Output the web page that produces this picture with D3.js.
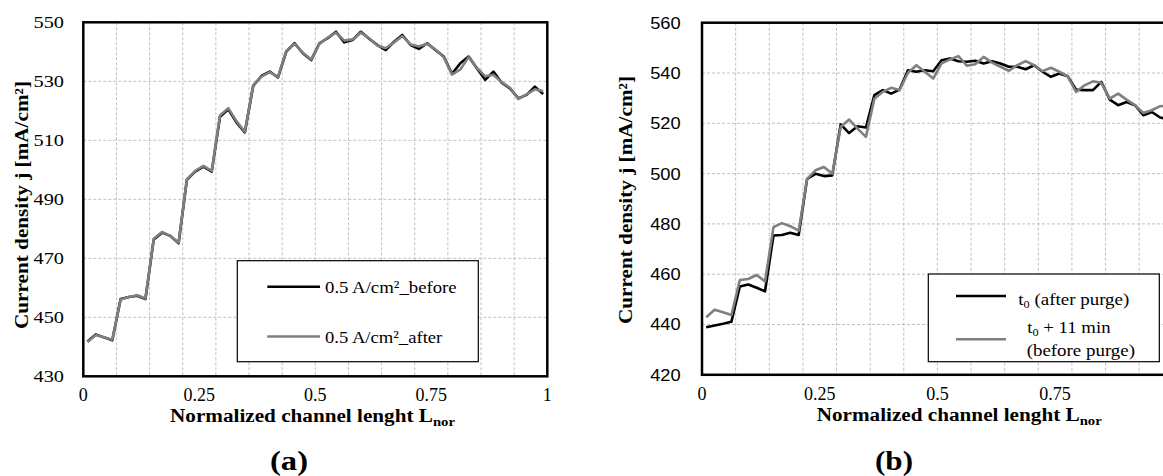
<!DOCTYPE html>
<html><head><meta charset="utf-8">
<script src="https://cdn.jsdelivr.net/npm/d3@7"></script>
<style>body{margin:0;background:#fff}svg{display:block}</style>
</head><body>
<svg id="c" width="1163" height="476"></svg>
<script>
// Normalized channel length positions (segment centres)
const xs = [0.0089,0.0268,0.0446,0.0625,0.0804,0.0982,0.1161,0.1339,0.1518,0.1696,0.1875,0.2054,0.2232,0.2411,0.2589,0.2768,0.2946,0.3125,0.3304,0.3482,0.3661,0.3839,0.4018,0.4196,0.4375,0.4554,0.4732,0.4911,0.5089,0.5268,0.5446,0.5625,0.5804,0.5982,0.6161,0.6339,0.6518,0.6696,0.6875,0.7054,0.7232,0.7411,0.7589,0.7768,0.7946,0.8125,0.8304,0.8482,0.8661,0.8839,0.9018,0.9196,0.9375,0.9554,0.9732,0.9911];

// Panel (a)
const aBefore = [441.8,444.2,443.2,442.2,456.2,456.9,457.3,456.2,476.4,478.7,477.6,475.1,496.6,499.4,501.1,499.4,518.0,520.5,516.0,512.7,528.4,531.8,533.3,531.3,540.1,542.9,539.5,537.2,542.9,544.6,546.8,543.2,544.0,546.8,544.4,542.3,540.6,543.4,545.7,542.3,541.0,542.9,540.6,538.4,532.5,536.1,538.4,534.4,530.5,533.3,529.5,527.6,524.2,525.4,528.2,525.7];
const aAfter  = [441.6,444.0,443.2,442.4,456.0,456.9,457.5,456.4,476.6,478.9,477.6,475.3,496.8,499.6,501.3,499.6,518.4,520.9,516.4,512.9,528.6,531.6,533.1,531.5,540.3,542.7,539.7,537.4,542.7,544.8,546.5,543.8,544.2,546.5,544.6,542.1,541.2,543.2,545.3,542.5,541.8,542.7,540.8,538.2,532.3,534.0,538.2,534.6,531.7,532.2,529.7,527.8,524.0,525.6,527.3,526.6];

// Panel (b)
const bT0   = [438.9,439.6,440.3,441.1,455.1,455.9,454.6,453.2,475.4,475.6,476.5,475.6,497.9,499.9,499.0,499.3,519.6,516.1,518.8,518.3,531.2,533.2,531.8,533.4,541.1,540.5,541.1,540.7,545.1,545.8,544.7,544.5,544.9,543.8,544.7,543.8,542.5,542.5,541.5,543.1,540.5,538.5,539.8,538.7,533.4,533.2,533.2,536.5,529.4,527.2,528.5,527.2,523.2,524.5,522.3,521.5];
const bT11  = [442.9,445.9,444.9,443.8,457.7,458.1,459.7,457.1,478.7,480.3,479.1,477.3,497.9,501.3,502.6,499.9,518.5,521.5,517.9,514.6,529.8,532.5,534.1,533.2,540.1,543.1,540.5,537.8,543.8,545.4,546.7,542.9,543.5,546.4,544.1,542.5,540.9,543.1,544.7,543.1,540.7,542.1,540.5,538.7,532.5,535.1,536.7,536.1,529.8,531.8,529.4,527.2,524.1,525.2,526.8,527.0];

const aXTickLabels = ["0","0.25","0.5","0.75","1"];
const aXTickValues = [0,0.25,0.5,0.75,1];
const bXTickLabels = ["0","0.25","0.5","0.75"];
const bXTickValues = [0,0.25,0.5,0.75];
const aYTicks = [430,450,470,490,510,530,550];
const bYTicks = [420,440,460,480,500,520,540,560];

const svg = d3.select("#c");
const SERIF = "'Liberation Serif','Times New Roman',serif";
const SANS = "'Liberation Sans',Arial,sans-serif";

function panel(o){
  const x = d3.scaleLinear().domain([0,1]).range([o.x0,o.x1]);
  const y = d3.scaleLinear().domain(o.yd).range([o.y1,o.y0]);
  const g = svg.append("g");
  const vg = d3.range(1,14).map(i=>i/14);
  g.selectAll(".vg").data(vg).join("line")
    .attr("x1",d=>x(d)).attr("x2",d=>x(d)).attr("y1",o.y0).attr("y2",o.y1)
    .attr("stroke","#c0c0c0").attr("stroke-width",1).attr("stroke-dasharray","3,2");
  g.selectAll(".hg").data(o.yt.slice(1,-1)).join("line")
    .attr("x1",o.x0).attr("x2",o.x1).attr("y1",d=>y(d)).attr("y2",d=>y(d))
    .attr("stroke","#c0c0c0").attr("stroke-width",1).attr("stroke-dasharray","3,2");
  const line = d3.line().x((d,i)=>x(xs[i])).y(d=>y(d));
  g.append("path").datum(o.s1).attr("d",line).attr("fill","none")
    .attr("stroke","#000").attr("stroke-width",2.6).attr("stroke-linejoin","round");
  g.append("path").datum(o.s2).attr("d",line).attr("fill","none")
    .attr("stroke","#7f7f7f").attr("stroke-width",2.6).attr("stroke-linejoin","round");
  g.append("rect").attr("x",o.x0).attr("y",o.y0).attr("width",o.x1-o.x0).attr("height",o.y1-o.y0)
    .attr("fill","none").attr("stroke","#000").attr("stroke-width",2.5);
  // y tick labels
  g.selectAll(".yl").data(o.yt).join("text")
    .attr("x",o.ylx).attr("y",d=>y(d)).attr("dy","0.36em")
    .attr("text-anchor","end").attr("font-family",o.yFont).attr("font-size",o.yFs)
    .attr("textLength",o.ylLen).attr("lengthAdjust","spacingAndGlyphs")
    .text(d=>d);
  // x tick labels
  g.selectAll(".xl").data(o.xtv).join("text")
    .attr("x",d=>x(d)).attr("y",o.xlBase).attr("text-anchor","middle")
    .attr("font-family",SERIF).attr("font-size",18).text((d,i)=>o.xtl[i]);
  // x title
  const xt = g.append("text").attr("x",o.xtx).attr("y",o.xtBase)
    .attr("font-family",SERIF).attr("font-size",18).attr("font-weight","bold")
    .attr("textLength",285).attr("lengthAdjust","spacingAndGlyphs");
  xt.append("tspan").text("Normalized channel lenght L");
  xt.append("tspan").attr("font-size",12.5).attr("dy",4).text("nor");
  // y title
  g.append("text").attr("transform",`translate(${o.ytx},${o.ytc}) rotate(-90)`)
    .attr("text-anchor","middle").attr("font-family",SERIF).attr("font-size",19).attr("font-weight","bold")
    .attr("textLength",248).attr("lengthAdjust","spacingAndGlyphs")
    .text("Current density j [mA/cm²]");
  // panel label
  g.append("text").attr("x",o.lx).attr("y",469.5)
    .attr("font-family",SERIF).attr("font-size",27).attr("font-weight","bold")
    .attr("textLength",38).attr("lengthAdjust","spacingAndGlyphs").text(o.label);
  return {x,y,g};
}

panel({x0:83.3,x1:547.3,y0:22.3,y1:376.3,yd:[430,550],yt:aYTicks,s1:aBefore,s2:aAfter,
  ylx:64,ylLen:30.5,yFont:SERIF,yFs:17,xtv:aXTickValues,xtl:aXTickLabels,xlBase:400.5,
  xtx:170,xtBase:421.5,ytx:27.5,ytc:205,lx:270,label:"(a)"});
panel({x0:702,x1:1172.8,y0:22.7,y1:374.8,yd:[420,560],yt:bYTicks,s1:bT0,s2:bT11,
  ylx:680.7,ylLen:30.5,yFont:SANS,yFs:16.5,xtv:bXTickValues,xtl:bXTickLabels,xlBase:399.5,
  xtx:816.7,xtBase:420.5,ytx:631.7,ytc:200,lx:875,label:"(b)"});

// legend (a)
const la = svg.append("g");
la.append("rect").attr("x",237.3).attr("y",260.7).attr("width",241).attr("height",101)
  .attr("fill","#fff").attr("stroke","#000").attr("stroke-width",1.2);
const aLeg = [{n:"0.5 A/cm²_before",c:"#000",y:286.7,b:293.3,w:131.7},{n:"0.5 A/cm²_after",c:"#7f7f7f",y:336.5,b:342.7,w:117.3}];
aLeg.forEach(d=>{
  la.append("line").attr("x1",267.3).attr("x2",320).attr("y1",d.y).attr("y2",d.y)
    .attr("stroke",d.c).attr("stroke-width",2.6);
  la.append("text").attr("x",325).attr("y",d.b).attr("font-family",SERIF).attr("font-size",17.5)
    .attr("textLength",d.w).attr("lengthAdjust","spacingAndGlyphs").text(d.n);
});

// legend (b)
const lb = svg.append("g");
lb.append("rect").attr("x",928.3).attr("y",274).attr("width",231).attr("height",87.7)
  .attr("fill","#fff").attr("stroke","#000").attr("stroke-width",1.2);
lb.append("line").attr("x1",956).attr("x2",1006).attr("y1",296).attr("y2",296).attr("stroke","#000").attr("stroke-width",2.6);
lb.append("line").attr("x1",956).attr("x2",1006).attr("y1",339.3).attr("y2",339.3).attr("stroke","#7f7f7f").attr("stroke-width",2.6);
const t1 = lb.append("text").attr("x",1018.3).attr("y",304.5).attr("font-family",SERIF).attr("font-size",17)
  .attr("textLength",111).attr("lengthAdjust","spacingAndGlyphs");
t1.append("tspan").text("t");
t1.append("tspan").attr("font-size",11).attr("dy",3).text("0");
t1.append("tspan").attr("dy",-3).text(" (after purge)");
const t2 = lb.append("text").attr("x",1027.3).attr("y",333).attr("font-family",SERIF).attr("font-size",17)
  .attr("textLength",83.3).attr("lengthAdjust","spacingAndGlyphs");
t2.append("tspan").text("t");
t2.append("tspan").attr("font-size",11).attr("dy",3).text("0");
t2.append("tspan").attr("dy",-3).text(" + 11 min");
lb.append("text").attr("x",1026.7).attr("y",355.5).attr("font-family",SERIF).attr("font-size",17)
  .attr("textLength",108.3).attr("lengthAdjust","spacingAndGlyphs").text("(before purge)");
</script>
</body></html>
